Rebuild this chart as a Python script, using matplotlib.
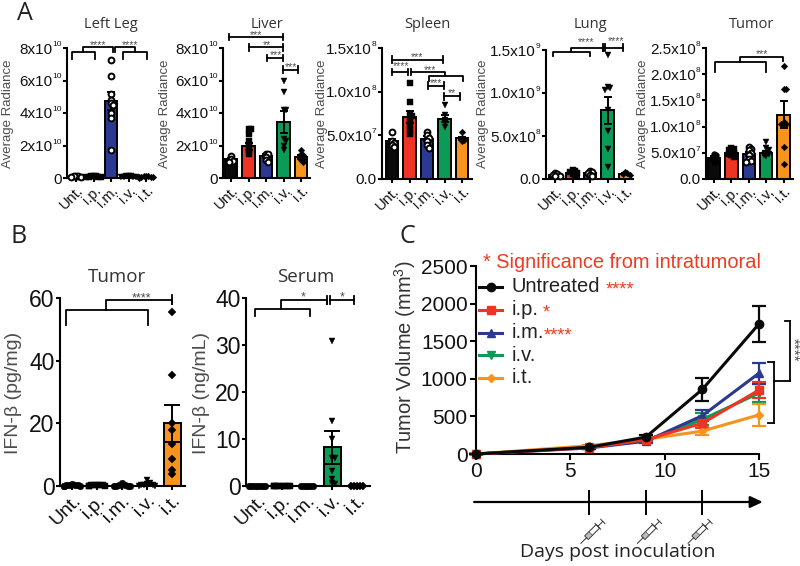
import matplotlib
matplotlib.use('Agg')
import matplotlib.pyplot as plt
from matplotlib.patches import Polygon

plt.rcParams['font.family'] = ['Liberation Sans', 'DejaVu Sans']
plt.rcParams['mathtext.default'] = 'regular'
plt.rcParams['axes.linewidth'] = 1.5

W, H = 800, 566
groups = ['Unt.', 'i.p.', 'i.m.', 'i.v.', 'i.t.']
colors = ['#0a0a0a', '#ee3524', '#2b3990', '#0c9a57', '#f7941d']
markers = ['o', 's', 'o', 'v', 'D']
gray = '#4d4d4d'
red = '#ef3b23'

# panel A, values in units of 1e10 / 1e10 / 1e7 / 1e8 / 1e7
leg_means = [0.1, 0.1, 4.75, 0.1, 0.1]
leg_sems = [0.02, 0.02, 0.55, 0.02, 0.02]
leg_pts = [[0.15, 0.12, 0.1, 0.06, 0.05],
           [0.15, 0.12, 0.1, 0.08, 0.06, 0.05, 0.04],
           [7.28, 6.3, 5.2, 4.8, 4.6, 4.5, 4.0, 3.7, 1.75],
           [0.15, 0.12, 0.1, 0.08, 0.06, 0.05, 0.04],
           [0.15, 0.12, 0.1, 0.08, 0.06, 0.05, 0.04, 0.03]]
liver_means = [1.15, 1.95, 1.33, 3.45, 1.3]
liver_sems = [0.1, 0.2, 0.12, 0.65, 0.1]
liver_pts = [[1.35, 1.15, 1.05, 1.0],
             [3.0, 3.0, 2.7, 2.3, 2.1, 1.9, 1.7, 1.5],
             [1.5, 1.45, 1.3, 1.1, 1.0],
             [6.0, 5.3, 4.2, 4.2, 2.4, 2.3, 2.0, 1.7],
             [1.7, 1.5, 1.4, 1.3, 1.2, 1.1, 1.0]]
spleen_means = [4.3, 7.1, 4.6, 6.9, 4.65]
spleen_sems = [0.3, 0.7, 0.3, 0.4, 0.15]
spleen_pts = [[5.4, 4.3, 4.1, 3.9, 3.7],
              [11.0, 8.8, 7.5, 7.2, 6.6, 6.2, 5.6, 5.2],
              [5.4, 5.0, 4.7, 4.3, 3.9, 3.6],
              [8.5, 7.3, 6.8, 6.4, 6.0],
              [5.4, 4.7, 4.5, 4.3]]
lung_means = [0.5, 0.7, 0.65, 8.0, 0.6]
lung_sems = [0.05, 0.08, 0.08, 1.55, 0.05]
lung_pts = [[0.7, 0.6, 0.5, 0.4, 0.3],
            [1.0, 0.9, 0.8, 0.7, 0.6, 0.5],
            [0.9, 0.8, 0.7, 0.5, 0.4],
            [14.4, 10.7, 10.55, 10.4, 8.0, 5.6, 3.5, 1.35],
            [0.8, 0.7, 0.6, 0.5]]
tumor_means = [4.0, 5.0, 4.7, 5.0, 12.3]
tumor_sems = [0.3, 0.3, 0.4, 0.4, 2.5]
tumor_pts = [[4.8, 4.5, 4.0, 3.5, 3.3],
             [6.0, 5.8, 5.5, 5.2, 5.0, 4.8, 4.5, 4.2],
             [6.2, 5.7, 5.5, 5.0, 4.5, 3.8, 3.4, 3.3],
             [7.0, 6.0, 5.5, 5.0, 4.8, 4.5, 4.3],
             [21.5, 17.2, 17.2, 10.8, 10.5, 10.5, 6.2, 2.8]]

# panel B
ifn_tumor_means = [0.2, 0.2, 0.2, 0.5, 20.0]
ifn_tumor_sems = [0.1, 0.1, 0.1, 0.3, 6.0]
ifn_tumor_pts = [[0.6, 0.4, 0.3, 0.2, 0.2, 0.1, 0.1, 0.0],
                 [0.4, 0.3, 0.2, 0.2, 0.2, 0.1, 0.1, 0.0],
                 [1.0, 0.4, 0.2, 0.1, 0.1, 0.0, 0.0],
                 [1.8, 1.0, 0.5, 0.4, 0.3, 0.2, 0.1, 0.0],
                 [55.5, 35.5, 20.0, 18.0, 13.5, 8.5, 5.0, 3.7]]
ifn_serum_means = [0.0, 0.0, 0.0, 8.2, 0.0]
ifn_serum_sems = [0.0, 0.0, 0.0, 3.6, 0.0]
ifn_serum_pts = [[0.0] * 7, [0.0] * 8, [0.1, 0.0, 0.0, 0.0, 0.0],
                 [30.8, 13.9, 10.0, 6.0, 5.9, 3.2, 1.5, 0.7, 0.5],
                 [0.0] * 5]

# panel C
days = [0, 6, 9, 12, 15]
dose_days = [6, 9, 12]
vol_iv = [0, 95, 175, 460, 810]
vol_it = [0, 110, 195, 305, 520]
vol_im = [0, 80, 170, 510, 1075]
vol_ip = [0, 85, 190, 410, 850]
vol_unt = [0, 90, 225, 860, 1730]
err_iv = [0, 15, 20, 80, 125]
err_it = [0, 15, 20, 55, 145]
err_im = [0, 15, 20, 70, 140]
err_ip = [0, 15, 20, 60, 110]
err_unt = [0, 20, 30, 155, 240]

fig = plt.figure(figsize=(8, 5.66), dpi=100)


def px_axes(x0, x1, ytop, ybot):
    return fig.add_axes([x0 / W, 1 - ybot / H, (x1 - x0) / W, (ybot - ytop) / H])


def swarm(vals, scale, md, spacing):
    # spread points sideways when they would overlap, like prism does
    placed = []
    step = md * 0.42
    for v in vals:
        for k in [0, 1, -1, 2, -2, 3, -3]:
            dx = k * step
            ok = True
            for (px, py) in placed:
                if abs(px - dx) < step * 0.9 and abs(py - v * scale) < md * 0.5:
                    ok = False
            if ok:
                break
        placed.append((dx, v * scale))
    return [p[0] / spacing for p in placed]


def bar_panel(box, cat0, spacing, ymax, ticks, ticklabels, means, sems, pts, open_idx,
              tick_fs, x_fs, bw, ms, cap):
    x0, x1, ytop, ybot = box
    ax = px_axes(x0, x1, ytop, ybot)
    xs = range(5)
    ax.bar(xs, means, width=bw, color=colors, edgecolor='black', linewidth=1.4, zorder=2)
    ax.errorbar(xs, means, yerr=sems, fmt='none', ecolor='black', elinewidth=1.4,
                capsize=cap, capthick=1.4, zorder=3)
    scale = (ybot - ytop) / ymax
    for i in xs:
        off = swarm(pts[i], scale, ms * 1.39, spacing)
        fc = 'white' if i in open_idx else 'black'
        ax.plot([i + o for o in off], pts[i], ls='none', marker=markers[i],
                mfc=fc, mec='black', mew=1.4 if i in open_idx else 0.3,
                ms=ms * (0.8 if markers[i] == 'D' else 1), zorder=4, clip_on=False)
    ax.set_xlim((x0 - cat0) / spacing, (x1 - cat0) / spacing)
    ax.set_ylim(0, ymax)
    ax.set_yticks(ticks)
    # superscripts are separate small texts, mathtext makes them too big
    parts = [s.split('^') for s in ticklabels]
    ax.set_yticklabels([p[0] for p in parts], fontsize=tick_fs, color='#111111')
    ax.set_xticks(list(xs))
    ax.set_xticklabels(groups, rotation=45, ha='right', rotation_mode='anchor',
                       fontsize=x_fs, color='#111111')
    ax.tick_params(width=1.5, length=3, pad=1)
    for (t, tv, p) in zip(ax.yaxis.get_major_ticks(), ticks, parts):
        if len(p) == 2:
            t.set_pad(1 + 3.3 * len(p[1]))
            ax.annotate(p[1], xy=(0, tv), xycoords=ax.get_yaxis_transform(), xytext=(-4, 0),
                        textcoords='offset points', ha='right', va='bottom', fontsize=6,
                        color='#111111', annotation_clip=False)
    ax.spines['top'].set_visible(False)
    ax.spines['right'].set_visible(False)
    return ax


def hline(ax, x0, x1, y, caps=None):
    ax.plot([x0, x1], [y, y], color='black', lw=1.3, clip_on=False, zorder=5,
            solid_capstyle='projecting')
    if caps:
        for x in (x0, x1):
            ax.plot([x, x], [y - caps, y + caps], color='black', lw=1.3, clip_on=False, zorder=5)


def comb(ax, a, b, y, leg, stem, top, end, drop):
    # lower bracket a..b, stem from its middle up to a line running to end
    ax.plot([a, a, b, b], [leg, y, y, leg], color='black', lw=1.3, clip_on=False, zorder=5)
    ax.plot([stem, stem, end, end], [y, top, top, drop], color='black', lw=1.3, clip_on=False, zorder=5)


def stars(ax, x, y, s, fs=7.5, color=gray):
    ax.text(x, y, s, ha='center', va='center', fontsize=fs, color=color, clip_on=False, zorder=6)


def exp_labels(vals, exp):
    return ['%sx10^%d' % (v, exp) for v in vals]


def title(x, y, s, fs):
    fig.text(x / W, 1 - y / H, s, ha='center', va='center', fontsize=fs, color='#333333',
             family=['Open Sans', 'DejaVu Sans'])


def ylab(x, y, s, fs, color=gray):
    fig.text(x / W, 1 - y / H, s, ha='center', va='center', rotation=90, fontsize=fs, color=color)


tf, xf = 11, 10.5
bw_a, ms_a, cap_a = 0.72, 4.2, 3
ax = bar_panel((67, 153, 48, 178), 76, 17.5, 8, [0, 2, 4, 6, 8], ['0'] + exp_labels(['2', '4', '6', '8'], 10),
               leg_means, leg_sems, leg_pts, [0, 2], tf, xf, bw_a, ms_a, cap_a)
comb(ax, -0.25, 1.09, 7.77, 7.32, 0.42, 8.04, 2.09, 7.77)
comb(ax, 4.04, 2.71, 7.77, 7.32, 3.37, 8.04, 2.23, 7.77)
stars(ax, 1.24, 8.15, '****')
stars(ax, 3.1, 8.15, '****')

ax = bar_panel((223, 310, 48, 178), 231, 17.5, 8, [0, 2, 4, 6, 8], ['0'] + exp_labels(['2', '4', '6', '8'], 10),
               liver_means, liver_sems, liver_pts, [0, 2], tf, xf, bw_a, ms_a, cap_a)
hline(ax, -0.11, 2.95, 8.68, 0.2)
hline(ax, 1.05, 2.95, 8.04, 0.2)
hline(ax, 2.04, 2.99, 7.38, 0.2)
hline(ax, 2.99, 3.85, 6.67, 0.2)
stars(ax, 1.43, 8.8, '***')
stars(ax, 2.04, 8.2, '**')
stars(ax, 2.55, 7.55, '***')
stars(ax, 3.43, 6.83, '***')

ax = bar_panel((382, 472, 48, 179), 392, 17.5, 15, [0, 5, 10, 15],
               ['0.0'] + exp_labels(['5.0'], 7) + exp_labels(['1.0', '1.5'], 8),
               spleen_means, spleen_sems, spleen_pts, [0, 2], tf, xf, bw_a, ms_a, cap_a)
hline(ax, 0.02, 2.89, 13.68, 0.38)
hline(ax, 0.02, 0.94, 12.26, 0.38)
hline(ax, 2.04, 2.97, 10.69, 0.38)
hline(ax, 2.97, 3.89, 9.46, 0.38)
ax.plot([1.07, 1.07], [11.88, 12.64], color='black', lw=1.3, clip_on=False, zorder=5)
comb(ax, 2.13, 4.04, 11.84, 11.19, 3.03, 12.26, 1.07, 12.26)
stars(ax, 1.4, 13.95, '***')
stars(ax, 0.5, 12.9, '****')
stars(ax, 2.17, 12.5, '***')
stars(ax, 2.5, 10.95, '***')
stars(ax, 3.45, 9.8, '**')

ax = bar_panel((546, 633, 50, 179), 555, 17.5, 15, [0, 5, 10, 15],
               ['0.0'] + exp_labels(['5.0'], 8) + exp_labels(['1.0', '1.5'], 9),
               lung_means, lung_sems, lung_pts, [0, 2], tf, xf, bw_a, ms_a, cap_a)
comb(ax, -0.11, 2.0, 14.8, 14.3, 0.9, 15.27, 2.74, 14.88)
ax.plot([2.74, 2.74], [14.88, 15.66], color='black', lw=1.3, clip_on=False, zorder=5)
hline(ax, 2.86, 3.89, 15.27, 0.39)
stars(ax, 1.77, 15.9, '****')
stars(ax, 3.49, 16.05, '****')

ax = bar_panel((706, 793, 48, 179), 714, 17.4, 25, [0, 5, 10, 15, 20, 25],
               ['0.0'] + exp_labels(['5.0'], 7) + exp_labels(['1.0', '1.5', '2.0', '2.5'], 8),
               tumor_means, tumor_sems, tumor_pts, [2], tf, xf, bw_a, ms_a, cap_a)
comb(ax, 0.05, 2.99, 22.26, 20.5, 1.49, 23.28, 3.95, 22.45)
stars(ax, 2.74, 23.75, '***')

for (x, s) in [(111, 'Left Leg'), (267, 'Liver'), (427, 'Spleen'), (590, 'Lung'), (752, 'Tumor')]:
    title(x, 24, s, 10.5)
for x in [8, 165, 322, 483, 643]:
    ylab(x, 114, 'Average Radiance', 9.5)

# panel B
tf2, xf2 = 16.5, 14
ax = bar_panel((60, 185, 298, 486), 72, 25, 60, [0, 20, 40, 60], ['0', '20', '40', '60'],
               ifn_tumor_means, ifn_tumor_sems, ifn_tumor_pts, [], tf2, xf2, 0.68, 4.8, 6)
comb(ax, -0.25, 3.03, 56.3, 51.5, 1.36, 59.5, 3.99, 58.2)
ax.plot([3.99, 3.99], [58.2, 60.8], color='black', lw=1.3, clip_on=False, zorder=5)
stars(ax, 2.79, 60.0, '****', 9)

ax = bar_panel((246, 370, 298, 486), 257, 25, 40, [0, 10, 20, 30, 40], ['0', '10', '20', '30', '40'],
               ifn_serum_means, ifn_serum_sems, ifn_serum_pts, [], tf2, xf2, 0.68, 4.8, 6)
comb(ax, -0.08, 2.12, 37.74, 36.1, 0.96, 39.6, 2.81, 38.7)
ax.plot([2.81, 2.81], [38.7, 40.5], color='black', lw=1.3, clip_on=False, zorder=5)
hline(ax, 2.92, 3.88, 39.6, 0.9)
stars(ax, 1.83, 40.2, '*', 9)
stars(ax, 3.41, 40.2, '*', 9)

title(117, 277, 'Tumor', 13.5)
title(306, 277, 'Serum', 13.5)
ylab(14, 393, 'IFN-β (pg/mg)', 14)
ylab(202, 393, 'IFN-β (ng/mL)', 14)

# panel C
ax = px_axes(476, 759, 266, 454)
series = [(vol_iv, err_iv, colors[3], 'v'), (vol_it, err_it, colors[4], 'D'),
          (vol_im, err_im, colors[2], '^'), (vol_ip, err_ip, colors[1], 's'),
          (vol_unt, err_unt, colors[0], 'o')]
for (vals, errs, c, m) in series:
    ax.errorbar(days, vals, yerr=errs, color=c, lw=2.2, marker=m, ms=4.5 if m == 'D' else 6,
                elinewidth=1.6, capsize=5, capthick=1.6, clip_on=False, zorder=4)
ax.set_xlim(0, 15)
ax.set_ylim(0, 2500)
ax.set_xticks([0, 5, 10, 15])
ax.set_yticks([0, 500, 1000, 1500, 2000, 2500])
ax.tick_params(labelsize=15, width=1.5, length=4, pad=2, labelcolor='#111111')
ax.spines['top'].set_visible(False)
ax.spines['right'].set_visible(False)
fig.text(483 / W, 1 - 262 / H, '* Significance from intratumoral', color=red, fontsize=14.4,
         ha='left', va='center')

legend_rows = [('Untreated', colors[0], 'o', 2221, '****', 6.89),
               ('i.p.', colors[1], 's', 1920, '*', 3.55),
               ('i.m.', colors[2], '^', 1611, '****', 3.6),
               ('i.v.', colors[3], 'v', 1314, '', 0),
               ('i.t.', colors[4], 'D', 1013, '', 0)]
for (name, c, m, y, sig, sx) in legend_rows:
    ax.plot([0.18, 1.36], [y, y], color=c, lw=2.2, clip_on=False, zorder=5)
    ax.plot([0.77], [y], color=c, marker=m, ms=4.5 if m == 'D' else 6, clip_on=False, zorder=5)
    ax.text(1.89, y, name, fontsize=14.5, va='center', color='#222222')
    if sig:
        ax.text(sx, y - 40, sig, fontsize=13, va='center', color=red)

for (x0, x1, y) in [(15.49, 15.79, 1226), (15.49, 15.79, 416), (16.38, 16.64, 1770)]:
    ax.plot([x0, x1], [y, y], color='black', lw=1.3, clip_on=False)
ax.plot([15.79, 15.79], [416, 1226], color='black', lw=1.3, clip_on=False)
ax.plot([15.79, 16.64], [969, 969], color='black', lw=1.3, clip_on=False)
ax.plot([16.64, 16.64], [969, 1770], color='black', lw=1.3, clip_on=False)
ax.text(16.78, 1380, '****', rotation=-90, ha='center', va='center', fontsize=11, color=gray, clip_on=False)

ylab(405, 357, 'Tumor Volume (mm$^{3}$)', 14.5, '#333333')

# timeline under the axis, days on x, pixels below the axis top on y
tl = px_axes(476, 759, 485, 545)
tl.set_xlim(0, 15)
tl.set_ylim(60, 0)
tl.axis('off')
tl.annotate('', xy=(15.2, 17), xytext=(-0.1, 17),
            arrowprops=dict(arrowstyle='-|>,head_length=0.75,head_width=0.35', color='black', lw=1.6,
                            shrinkA=0, shrinkB=0), annotation_clip=False)
ppd = 283 / 15


def syringe(day, shift):
    # body runs from the needle tip up to the right at 45 degrees
    cx, cy = day + shift / ppd, 47
    d = 0.7071

    def pt(u, v):
        return (cx + (u * d + v * d) / ppd, cy - u * d + v * d)
    body = [pt(-8, -2.5), pt(8, -2.5), pt(8, 2.5), pt(-8, 2.5)]
    tl.add_patch(Polygon(body, closed=True, fc='white', ec='#333333', lw=0.7, clip_on=False))
    fill = [pt(-8, -2.5), pt(-2, -2.5), pt(-2, 2.5), pt(-8, 2.5)]
    tl.add_patch(Polygon(fill, closed=True, fc='#bbbbbb', ec='#333333', lw=0.4, clip_on=False))
    for (a, b) in [((-8, 0), (-16, 0)), ((8, 0), (15, 0)), ((15, -3), (15, 3)), ((8, -4), (8, 4))]:
        p, q = pt(*a), pt(*b)
        tl.plot([p[0], q[0]], [p[1], q[1]], color='#333333', lw=0.7, clip_on=False)


for (dd, shift) in zip(dose_days, [3, 3, -3]):
    tl.plot([dd, dd], [6, 29], color='black', lw=1.4)
    syringe(dd, shift)

fig.text(618 / W, 1 - 552 / H, 'Days post inoculation', ha='center', va='center', fontsize=14,
         color='#222222', family=['Open Sans', 'DejaVu Sans'])

for (x, y, s) in [(25, 13, 'A'), (19, 236, 'B'), (407, 236, 'C')]:
    fig.text(x / W, 1 - y / H, s, ha='center', va='center', fontsize=18, color='#222222',
             family=['Open Sans', 'DejaVu Sans'])

fig.savefig('out.png', dpi=100)
